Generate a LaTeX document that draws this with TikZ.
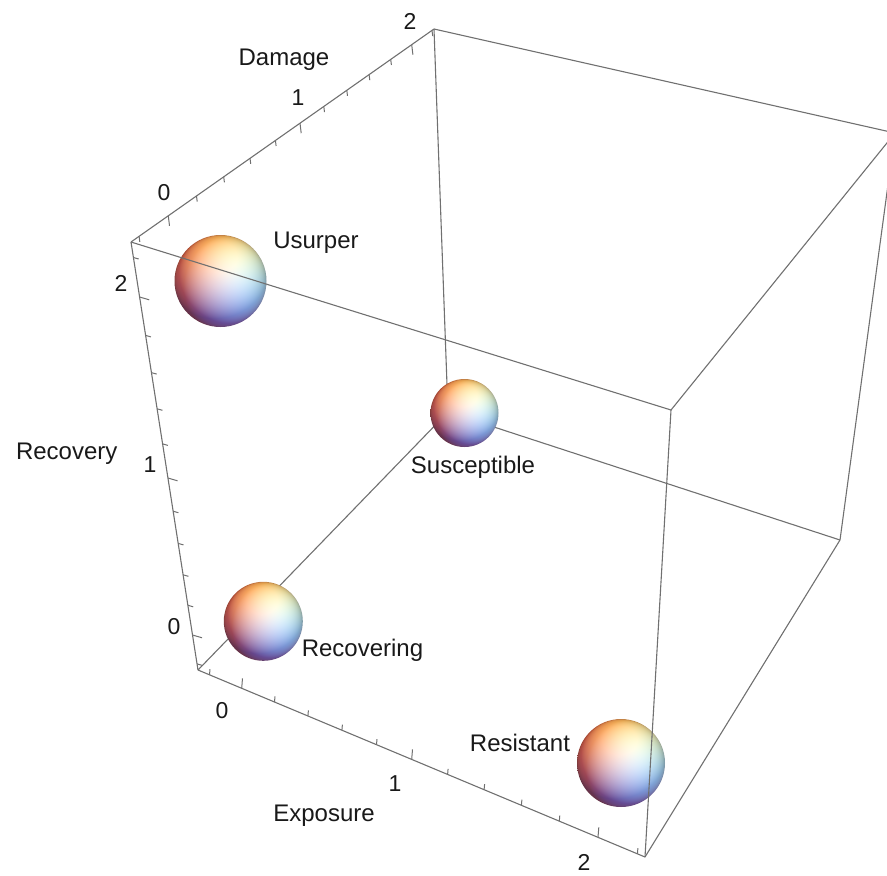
\documentclass[tikz,border=0pt]{standalone}
\usepackage{fontspec}
\setmainfont{Liberation Sans}
\definecolor{edgegray}{RGB}{112,112,112}
\pgfdeclarefunctionalshading{msphere}{\pgfpoint{-50bp}{-50bp}}{\pgfpoint{50bp}{50bp}}{}{
25 div exch 25 div exch
2 copy dup mul exch dup mul add
1 exch sub dup 0 lt {pop 0} if sqrt
2 index -0.196 mul 2 index 0.588 mul add 1 index 0.784 mul add dup 0 lt {pop 0} if
3 index 0.408 mul 3 index 0.408 mul add 2 index 0.816 mul add dup 0 lt {pop 0} if
4 index 0.588 mul 4 index -0.196 mul add 3 index 0.784 mul add dup 0 lt {pop 0} if
5 index -0.236 mul 5 index -0.236 mul add 4 index 0.943 mul add dup 0 lt {pop 0} if
3 index 0.5 mul 3 index 0.18 mul add 0.4 add
4 index 0.18 mul 4 index 0.5 mul add 3 index 0.18 mul add 0.2 add
4 index 0.18 mul 4 index 0.5 mul add 3 index 0.18 mul add 0.2 add
10 3 roll pop pop pop pop pop pop pop
}
\begin{document}
\begin{tikzpicture}[x=1pt,y=-1pt,
  edge/.style={draw=edgegray, line width=1.1pt},
  tickmark/.style={draw=edgegray, line width=1pt},
  ball/.style={circle, inner sep=0pt, shading=msphere},
  lab/.style={inner sep=0pt, anchor=base, font=\fontsize{24}{28}\selectfont, text=black!90},
  ticklab/.style={inner sep=0pt, anchor=center, font=\fontsize{23}{27}\selectfont, text=black!90}]
\useasboundingbox (0,0) rectangle (887,876);
\clip (0,0) rectangle (887,876);
% cube vertices (E,D,R)
\coordinate (v000) at (198,670);
\coordinate (v100) at (645,857);
\coordinate (v001) at (131,242);
\coordinate (v011) at (434,29);
\coordinate (v101) at (671,410);
\coordinate (v111) at (895,133);
\coordinate (v110) at (840,540);
\coordinate (v010) at (448,412);
% hidden-ish edges (behind spheres)
\draw[edge] (v000) -- (v010);
\draw[edge] (v010) -- (v110);
\draw[edge] (v011) -- (v010);
% remaining edges
\draw[edge] (v000) -- (v100);
\draw[edge] (v000) -- (v001);
\draw[edge] (v001) -- (v011);
\draw[edge] (v011) -- (v111);
\draw[edge] (v101) -- (v111);
\draw[edge] (v111) -- (v110);
\draw[edge] (v100) -- (v110);
% ticks: Recovery axis
\foreach \x/\y in {192.5/635, 167.9/478, 139.6/297}
  \draw[tickmark] (\x,\y) -- ++(9.6,2.8);
\foreach \x/\y in {197.05/663.9, 187.9/605.3, 183.1/574.8, 178.2/543.4, 173.1/511.2,
                   162.6/443.9, 157.1/408.8, 151.4/372.6, 145.6/335.4, 133.4/257.5}
  \draw[tickmark] (\x,\y) -- ++(5.3,1.5);
% ticks: Damage axis
\foreach \x/\y in {168.3/215.8, 300.0/123.2, 411.7/44.7}
  \draw[tickmark] (\x,\y) -- ++(1.2,10);
\foreach \x/\y in {139.1/236.3, 196.5/196.0, 223.7/176.8, 250.0/158.2, 275.4/140.4,
                   323.8/106.5, 346.8/90.3, 369.1/74.6, 390.7/59.4, 432.0/30.4}
  \draw[tickmark] (\x,\y) -- ++(0.7,5.6);
% ticks: Exposure axis
\foreach \x/\y in {241.7/688.3, 411.7/759.4, 598.0/837.3}
  \draw[tickmark] (\x,\y) -- ++(0.8,-10);
\foreach \x/\y in {209.5/674.8, 274.5/702.0, 307.9/716.0, 341.9/730.2, 376.5/744.7,
                   447.6/774.4, 484.1/789.7, 521.4/805.3, 559.3/821.1, 637.4/853.8}
  \draw[tickmark] (\x,\y) -- ++(0.5,-5.6);
% spheres
\node[ball, minimum size=79pt] (recovering) at (263.3,621.3) {};
\node[ball, minimum size=68pt] (susceptible) at (464.5,413) {};
\node[ball, minimum size=92pt] (usurper) at (220.5,281) {};
\node[ball, minimum size=88pt] (resistant) at (621,763) {};
% front edges
\draw[edge] (v001) -- (v101);
\draw[edge] (v100) -- (v101);
% axis labels
\node[lab] (tdamage) at (284,65) {Damage};
\node[lab] (trecovery) at (66.7,459.3) {Recovery};
\node[lab] (texposure) at (324,821.7) {Exposure};
% sphere labels
\node[lab] (lusurper) at (316,248.3) {Usurper};
\node[lab] (lsusceptible) at (473,473.3) {Susceptible};
\node[lab] (lrecovering) at (362.5,656.7) {Recovering};
\node[lab] (lresistant) at (520,751.7) {Resistant};
% tick labels
\node[ticklab] (d0) at (164,192.5) {0};
\node[ticklab] (d1) at (298,98) {1};
\node[ticklab] (d2) at (410,21) {2};
\node[ticklab] (r2) at (121,283) {2};
\node[ticklab] (r1) at (150,465) {1};
\node[ticklab] (r0) at (174,627) {0};
\node[ticklab] (e0) at (222,711) {0};
\node[ticklab] (e1) at (395,784) {1};
\node[ticklab] (e2) at (584,862) {2};
\end{tikzpicture}
\end{document}
